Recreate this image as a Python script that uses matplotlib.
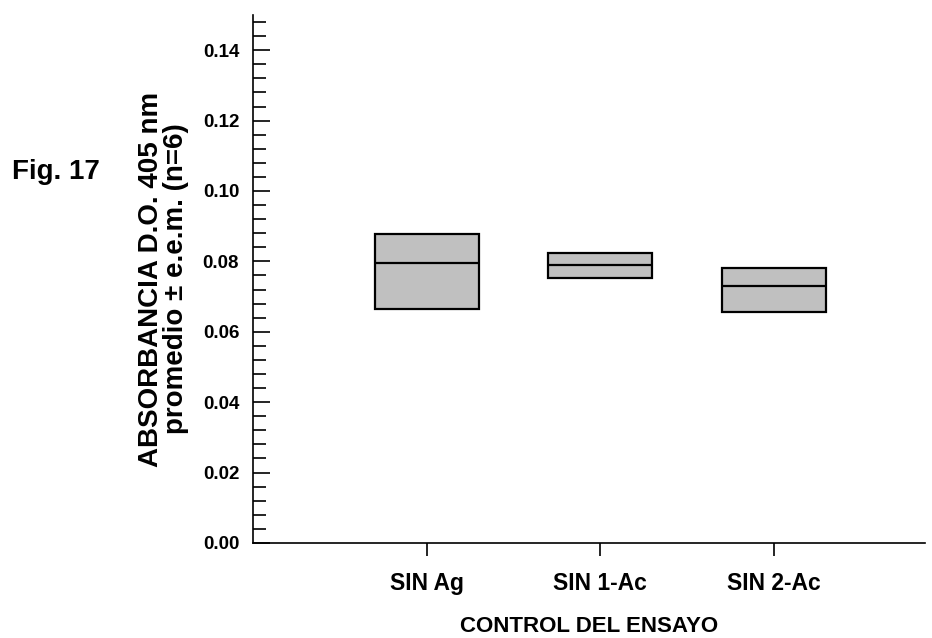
import numpy as np
import matplotlib.pyplot as plt
from matplotlib.ticker import MultipleLocator

plt.rcParams['font.family'] = ['Liberation Sans', 'DejaVu Sans']
plt.rcParams['font.weight'] = 'bold'

categories = ['SIN Ag', 'SIN 1-Ac', 'SIN 2-Ac']
lower = [0.0666, 0.0754, 0.0655]
median = [0.0794, 0.0791, 0.0731]
upper = [0.0877, 0.0825, 0.0780]

fig = plt.figure(figsize=(9.32, 6.38), dpi=100)
ax = fig.add_axes([0.2715, 0.149, 0.721, 0.8275])

x = np.arange(1, len(categories) + 1)
width = 0.6
heights = np.array(upper) - np.array(lower)
ax.bar(x, heights, width=width, bottom=lower, color='#c0c0c0',
       edgecolor='black', linewidth=1.6, zorder=2)
ax.hlines(median, x - width / 2, x + width / 2, color='black', linewidth=1.6, zorder=3)

ax.set_xlim(0, 3.87)
ax.set_ylim(0, 0.15)
ax.set_xticks(x)
ax.set_xticklabels(categories, fontsize=16.5, fontweight='bold')
ax.yaxis.set_minor_locator(MultipleLocator(0.004))
ax.set_yticks(np.arange(0, 0.141, 0.02))
ax.yaxis.set_major_formatter(plt.FormatStrFormatter('%.2f'))
for lab in ax.get_yticklabels():
    lab.set_fontsize(13.5)
    lab.set_fontweight('bold')

ax.tick_params(axis='y', which='major', direction='in', length=12, width=1.2, pad=10)
ax.tick_params(axis='y', which='minor', direction='in', length=9, width=1.2)
ax.tick_params(axis='x', which='major', direction='out', length=9, width=1.2, pad=12)

ax.spines['top'].set_visible(False)
ax.spines['right'].set_visible(False)
ax.spines['left'].set_linewidth(1.2)
ax.spines['bottom'].set_linewidth(1.2)

ax.set_xlabel('CONTROL DEL ENSAYO', fontsize=16, fontweight='bold', labelpad=15)
ax.set_ylabel('ABSORBANCIA D.O. 405 nm\npromedio ± e.e.m. (n=6)', fontsize=20,
              fontweight='bold', labelpad=10, linespacing=0.92)

fig.text(0.013, 0.73, 'Fig. 17', fontsize=20, fontweight='bold', va='center', ha='left')

fig.savefig('out.png', dpi=100)
